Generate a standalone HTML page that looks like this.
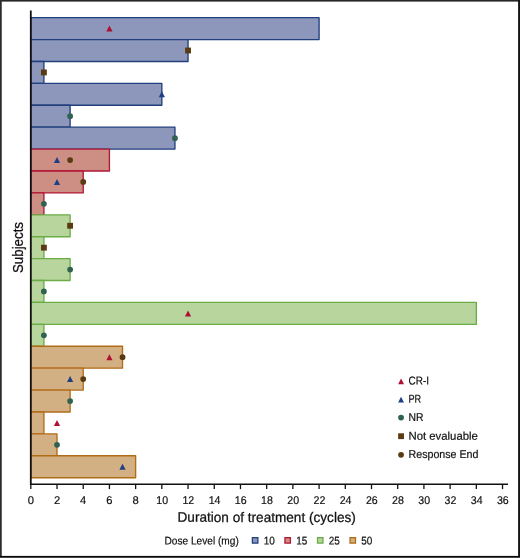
<!DOCTYPE html>
<html><head><meta charset="utf-8"><title>Duration of treatment</title>
<style>
html,body{margin:0;padding:0;background:#fff;}
svg{display:block;}
text{font-family:"Liberation Sans",sans-serif;fill:#111;stroke:#111;stroke-width:0.2px;}
text.t{stroke-width:0.25px;}
</style></head><body>
<svg width="520" height="558" viewBox="0 0 520 558">
<rect x="0" y="0" width="520" height="558" fill="#fff"/>
<rect x="0" y="0" width="520" height="1.6" fill="#272727"/>
<rect x="0" y="0" width="1.75" height="558" fill="#2d2d2d"/>
<rect x="518.1" y="0" width="1.9" height="558" fill="#141414"/>
<rect x="0" y="555.9" width="520" height="1.1" fill="#0c0c0c"/>
<rect x="0" y="557" width="520" height="1" fill="#444"/>

<rect x="30.80" y="17.65" width="288.29" height="21.91" fill="#8C97BB" stroke="#21407D" stroke-width="1.35" stroke-linejoin="round"/>
<rect x="30.80" y="39.56" width="157.25" height="21.91" fill="#8C97BB" stroke="#21407D" stroke-width="1.35" stroke-linejoin="round"/>
<rect x="30.80" y="61.46" width="13.10" height="21.91" fill="#8C97BB" stroke="#21407D" stroke-width="1.35" stroke-linejoin="round"/>
<rect x="30.80" y="83.37" width="131.04" height="21.91" fill="#8C97BB" stroke="#21407D" stroke-width="1.35" stroke-linejoin="round"/>
<rect x="30.80" y="105.28" width="39.31" height="21.91" fill="#8C97BB" stroke="#21407D" stroke-width="1.35" stroke-linejoin="round"/>
<rect x="30.80" y="127.19" width="144.14" height="21.91" fill="#8C97BB" stroke="#21407D" stroke-width="1.35" stroke-linejoin="round"/>
<rect x="30.80" y="149.09" width="78.62" height="21.91" fill="#CD8E83" stroke="#B21737" stroke-width="1.35" stroke-linejoin="round"/>
<rect x="30.80" y="171.00" width="52.42" height="21.91" fill="#CD8E83" stroke="#B21737" stroke-width="1.35" stroke-linejoin="round"/>
<rect x="30.80" y="192.91" width="13.10" height="21.91" fill="#CD8E83" stroke="#B21737" stroke-width="1.35" stroke-linejoin="round"/>
<rect x="30.80" y="214.81" width="39.31" height="21.91" fill="#B9D59E" stroke="#6AAD45" stroke-width="1.35" stroke-linejoin="round"/>
<rect x="30.80" y="236.72" width="13.10" height="21.91" fill="#B9D59E" stroke="#6AAD45" stroke-width="1.35" stroke-linejoin="round"/>
<rect x="30.80" y="258.63" width="39.31" height="21.91" fill="#B9D59E" stroke="#6AAD45" stroke-width="1.35" stroke-linejoin="round"/>
<rect x="30.80" y="280.54" width="13.10" height="21.91" fill="#B9D59E" stroke="#6AAD45" stroke-width="1.35" stroke-linejoin="round"/>
<rect x="30.80" y="302.44" width="445.54" height="21.91" fill="#B9D59E" stroke="#6AAD45" stroke-width="1.35" stroke-linejoin="round"/>
<rect x="30.80" y="324.35" width="13.10" height="21.91" fill="#B9D59E" stroke="#6AAD45" stroke-width="1.35" stroke-linejoin="round"/>
<rect x="30.80" y="346.26" width="91.73" height="21.91" fill="#D2B084" stroke="#B16C18" stroke-width="1.35" stroke-linejoin="round"/>
<rect x="30.80" y="368.16" width="52.42" height="21.91" fill="#D2B084" stroke="#B16C18" stroke-width="1.35" stroke-linejoin="round"/>
<rect x="30.80" y="390.07" width="39.31" height="21.91" fill="#D2B084" stroke="#B16C18" stroke-width="1.35" stroke-linejoin="round"/>
<rect x="30.80" y="411.98" width="13.10" height="21.91" fill="#D2B084" stroke="#B16C18" stroke-width="1.35" stroke-linejoin="round"/>
<rect x="30.80" y="433.89" width="26.21" height="21.91" fill="#D2B084" stroke="#B16C18" stroke-width="1.35" stroke-linejoin="round"/>
<rect x="30.80" y="455.79" width="104.83" height="21.91" fill="#D2B084" stroke="#B16C18" stroke-width="1.35" stroke-linejoin="round"/>
<polygon points="109.42,25.60 112.52,31.60 106.32,31.60" fill="#AE1034"/>
<rect x="185.13" y="47.59" width="5.84" height="5.84" fill="#5B3A11"/>
<rect x="40.98" y="69.50" width="5.84" height="5.84" fill="#5B3A11"/>
<polygon points="161.84,91.32 164.94,97.32 158.74,97.32" fill="#1D4085"/>
<circle cx="70.11" cy="116.23" r="2.88" fill="#30634F"/>
<circle cx="174.94" cy="138.14" r="2.88" fill="#30634F"/>
<polygon points="57.01,157.05 60.11,163.05 53.91,163.05" fill="#1D4085"/>
<circle cx="70.11" cy="160.05" r="2.88" fill="#5B3A11"/>
<polygon points="57.01,178.95 60.11,184.95 53.91,184.95" fill="#1D4085"/>
<circle cx="83.22" cy="181.95" r="2.88" fill="#5B3A11"/>
<circle cx="43.90" cy="203.86" r="2.88" fill="#30634F"/>
<rect x="67.19" y="222.85" width="5.84" height="5.84" fill="#5B3A11"/>
<rect x="40.98" y="244.76" width="5.84" height="5.84" fill="#5B3A11"/>
<circle cx="70.11" cy="269.58" r="2.88" fill="#30634F"/>
<circle cx="43.90" cy="291.49" r="2.88" fill="#30634F"/>
<polygon points="188.05,310.40 191.15,316.40 184.95,316.40" fill="#AE1034"/>
<circle cx="43.90" cy="335.30" r="2.88" fill="#30634F"/>
<polygon points="109.42,354.21 112.52,360.21 106.32,360.21" fill="#AE1034"/>
<circle cx="122.53" cy="357.21" r="2.88" fill="#5B3A11"/>
<polygon points="70.11,376.12 73.21,382.12 67.01,382.12" fill="#1D4085"/>
<circle cx="83.22" cy="379.12" r="2.88" fill="#5B3A11"/>
<circle cx="70.11" cy="401.02" r="2.88" fill="#30634F"/>
<polygon points="57.01,419.93 60.11,425.93 53.91,425.93" fill="#AE1034"/>
<circle cx="57.01" cy="444.84" r="2.88" fill="#30634F"/>
<polygon points="122.53,463.75 125.63,469.75 119.43,469.75" fill="#1D4085"/>
<line x1="30.8" y1="10.5" x2="30.8" y2="484.9" stroke="#111" stroke-width="1.8"/>
<line x1="30.2" y1="484.2" x2="508" y2="484.2" stroke="#111" stroke-width="1.5"/>
<line x1="30.80" y1="484.4" x2="30.80" y2="489.1" stroke="#111" stroke-width="1.3"/>
<text transform="rotate(0.05 30.80 504)" x="30.80" y="504" font-size="11.2" text-anchor="middle">0</text>
<line x1="57.01" y1="484.4" x2="57.01" y2="489.1" stroke="#111" stroke-width="1.3"/>
<text transform="rotate(0.05 57.01 504)" x="57.01" y="504" font-size="11.2" text-anchor="middle">2</text>
<line x1="83.22" y1="484.4" x2="83.22" y2="489.1" stroke="#111" stroke-width="1.3"/>
<text transform="rotate(0.05 83.22 504)" x="83.22" y="504" font-size="11.2" text-anchor="middle">4</text>
<line x1="109.42" y1="484.4" x2="109.42" y2="489.1" stroke="#111" stroke-width="1.3"/>
<text transform="rotate(0.05 109.42 504)" x="109.42" y="504" font-size="11.2" text-anchor="middle">6</text>
<line x1="135.63" y1="484.4" x2="135.63" y2="489.1" stroke="#111" stroke-width="1.3"/>
<text transform="rotate(0.05 135.63 504)" x="135.63" y="504" font-size="11.2" text-anchor="middle">8</text>
<line x1="161.84" y1="484.4" x2="161.84" y2="489.1" stroke="#111" stroke-width="1.3"/>
<text transform="rotate(0.05 156.24 504)" x="156.24" y="504" font-size="11.2" textLength="11.8" lengthAdjust="spacingAndGlyphs">10</text>
<line x1="188.05" y1="484.4" x2="188.05" y2="489.1" stroke="#111" stroke-width="1.3"/>
<text transform="rotate(0.05 182.45 504)" x="182.45" y="504" font-size="11.2" textLength="11.8" lengthAdjust="spacingAndGlyphs">12</text>
<line x1="214.26" y1="484.4" x2="214.26" y2="489.1" stroke="#111" stroke-width="1.3"/>
<text transform="rotate(0.05 208.66 504)" x="208.66" y="504" font-size="11.2" textLength="11.8" lengthAdjust="spacingAndGlyphs">14</text>
<line x1="240.46" y1="484.4" x2="240.46" y2="489.1" stroke="#111" stroke-width="1.3"/>
<text transform="rotate(0.05 234.86 504)" x="234.86" y="504" font-size="11.2" textLength="11.8" lengthAdjust="spacingAndGlyphs">16</text>
<line x1="266.67" y1="484.4" x2="266.67" y2="489.1" stroke="#111" stroke-width="1.3"/>
<text transform="rotate(0.05 261.07 504)" x="261.07" y="504" font-size="11.2" textLength="11.8" lengthAdjust="spacingAndGlyphs">18</text>
<line x1="292.88" y1="484.4" x2="292.88" y2="489.1" stroke="#111" stroke-width="1.3"/>
<text transform="rotate(0.05 287.28 504)" x="287.28" y="504" font-size="11.2" textLength="11.8" lengthAdjust="spacingAndGlyphs">20</text>
<line x1="319.09" y1="484.4" x2="319.09" y2="489.1" stroke="#111" stroke-width="1.3"/>
<text transform="rotate(0.05 313.49 504)" x="313.49" y="504" font-size="11.2" textLength="11.8" lengthAdjust="spacingAndGlyphs">22</text>
<line x1="345.30" y1="484.4" x2="345.30" y2="489.1" stroke="#111" stroke-width="1.3"/>
<text transform="rotate(0.05 339.70 504)" x="339.70" y="504" font-size="11.2" textLength="11.8" lengthAdjust="spacingAndGlyphs">24</text>
<line x1="371.50" y1="484.4" x2="371.50" y2="489.1" stroke="#111" stroke-width="1.3"/>
<text transform="rotate(0.05 365.90 504)" x="365.90" y="504" font-size="11.2" textLength="11.8" lengthAdjust="spacingAndGlyphs">26</text>
<line x1="397.71" y1="484.4" x2="397.71" y2="489.1" stroke="#111" stroke-width="1.3"/>
<text transform="rotate(0.05 392.11 504)" x="392.11" y="504" font-size="11.2" textLength="11.8" lengthAdjust="spacingAndGlyphs">28</text>
<line x1="423.92" y1="484.4" x2="423.92" y2="489.1" stroke="#111" stroke-width="1.3"/>
<text transform="rotate(0.05 418.32 504)" x="418.32" y="504" font-size="11.2" textLength="11.8" lengthAdjust="spacingAndGlyphs">30</text>
<line x1="450.13" y1="484.4" x2="450.13" y2="489.1" stroke="#111" stroke-width="1.3"/>
<text transform="rotate(0.05 444.53 504)" x="444.53" y="504" font-size="11.2" textLength="11.8" lengthAdjust="spacingAndGlyphs">32</text>
<line x1="476.34" y1="484.4" x2="476.34" y2="489.1" stroke="#111" stroke-width="1.3"/>
<text transform="rotate(0.05 470.74 504)" x="470.74" y="504" font-size="11.2" textLength="11.8" lengthAdjust="spacingAndGlyphs">34</text>
<line x1="502.54" y1="484.4" x2="502.54" y2="489.1" stroke="#111" stroke-width="1.3"/>
<text transform="rotate(0.05 496.94 504)" x="496.94" y="504" font-size="11.2" textLength="11.8" lengthAdjust="spacingAndGlyphs">36</text>
<text transform="rotate(0.05 177.5 521.85)" class="t" x="177.5" y="521.85" font-size="13.9" textLength="178.3" lengthAdjust="spacingAndGlyphs">Duration of treatment (cycles)</text>
<text class="t" transform="translate(22.55,273.0) rotate(-90)" font-size="13.8" textLength="51" lengthAdjust="spacingAndGlyphs">Subjects</text>
<text transform="rotate(0.05 164.5 544.4)" x="164.5" y="544.4" font-size="11.2" textLength="74.3" lengthAdjust="spacingAndGlyphs">Dose Level (mg)</text>
<rect x="252.40" y="537.65" width="5.45" height="5.45" fill="#8C97BB" stroke="#21407D" stroke-width="1.3"/>
<text transform="rotate(0.05 263.65 544.4)" x="263.65" y="544.4" font-size="11.2" textLength="11.1" lengthAdjust="spacingAndGlyphs">10</text>
<rect x="284.95" y="537.65" width="5.45" height="5.45" fill="#CD8E83" stroke="#B21737" stroke-width="1.3"/>
<text transform="rotate(0.05 296.20 544.4)" x="296.20" y="544.4" font-size="11.2" textLength="11.1" lengthAdjust="spacingAndGlyphs">15</text>
<rect x="317.50" y="537.65" width="5.45" height="5.45" fill="#B9D59E" stroke="#6AAD45" stroke-width="1.3"/>
<text transform="rotate(0.05 328.75 544.4)" x="328.75" y="544.4" font-size="11.2" textLength="11.1" lengthAdjust="spacingAndGlyphs">25</text>
<rect x="350.05" y="537.65" width="5.45" height="5.45" fill="#D2B084" stroke="#B16C18" stroke-width="1.3"/>
<text transform="rotate(0.05 361.30 544.4)" x="361.30" y="544.4" font-size="11.2" textLength="11.1" lengthAdjust="spacingAndGlyphs">50</text>
<polygon points="401.05,378.40 404.00,384.20 398.10,384.20" fill="#AE1034"/>
<text transform="rotate(0.05 408.5 384.50)" x="408.5" y="384.50" font-size="11.4" textLength="20.5" lengthAdjust="spacingAndGlyphs">CR-I</text>
<polygon points="401.05,396.80 404.00,402.60 398.10,402.60" fill="#1D4085"/>
<text transform="rotate(0.05 408.5 402.80)" x="408.5" y="402.80" font-size="11.4" textLength="12.7" lengthAdjust="spacingAndGlyphs">PR</text>
<circle cx="401.05" cy="417.60" r="2.88" fill="#30634F"/>
<text transform="rotate(0.05 408.5 421.10)" x="408.5" y="421.10" font-size="11.4" textLength="15" lengthAdjust="spacingAndGlyphs">NR</text>
<rect x="398.13" y="433.28" width="5.84" height="5.84" fill="#5B3A11"/>
<text transform="rotate(0.05 408.5 439.65)" x="408.5" y="439.65" font-size="11.4" textLength="69.4" lengthAdjust="spacingAndGlyphs">Not evaluable</text>
<circle cx="401.05" cy="454.85" r="2.88" fill="#5B3A11"/>
<text transform="rotate(0.05 408.5 457.90)" x="408.5" y="457.90" font-size="11.4" textLength="70" lengthAdjust="spacingAndGlyphs">Response End</text>
</svg></body></html>
